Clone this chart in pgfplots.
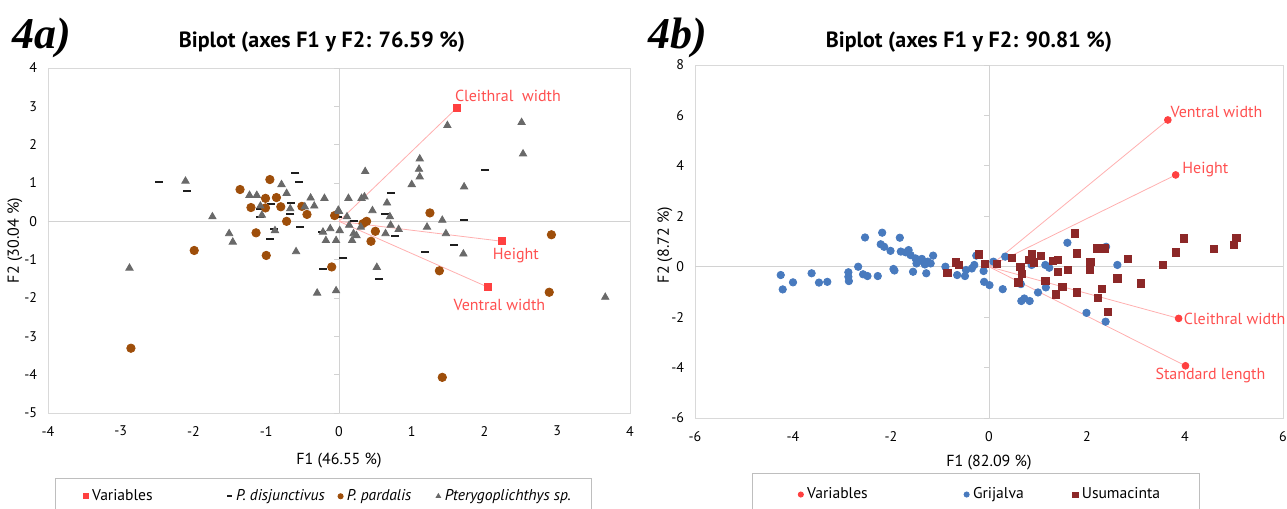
\documentclass[border=0pt]{standalone}
\usepackage{pgfplots}
\pgfplotsset{compat=1.18}
\usepackage{fontspec}
\setmainfont{PT Sans}
\newfontfamily\numfont{Liberation Serif}

\definecolor{framec}{RGB}{217,217,217}
\definecolor{zeroc}{RGB}{210,210,210}
\definecolor{varred}{RGB}{255,64,64}
\definecolor{vartxt}{RGB}{255,80,80}
\definecolor{vecc}{RGB}{255,175,175}
\definecolor{pardc}{RGB}{158,78,10}
\definecolor{ptec}{RGB}{105,105,105}
\definecolor{disc}{RGB}{30,30,30}
\definecolor{grijc}{RGB}{72,122,190}
\definecolor{usumc}{RGB}{140,40,40}
\definecolor{legc}{RGB}{190,190,190}

\pgfplotsset{
  bip/.style={
    scale only axis, anchor=south west,
    axis line style={draw=framec},
    major tick length=0pt,
    /pgf/number format/assume math mode=true,
    tick label style={font=\fontsize{7}{8}\selectfont},
    xticklabel style={yshift=-3pt},
    yticklabel style={xshift=-2pt},
    label style={font=\fontsize{8}{9}\selectfont},
    clip=false,
    legend style={draw=legc, font=\fontsize{7.8}{9}\selectfont,
      cells={anchor=west},
      nodes={inner xsep=0pt}},
    legend image code/.code={\draw[##1,mark size=1.3pt] plot coordinates {(0pt,0pt)}; \path (-3pt,0pt) (3pt,0pt);},
  },
}

\begin{document}
\begin{tikzpicture}
\useasboundingbox (0pt,0pt) rectangle (643.5pt,254.5pt);

% panel labels and titles
\node[font=\numfont\bfseries\itshape\fontsize{22}{24}\selectfont] at (20.75pt,235.5pt) {4a)};
\node[font=\bfseries\fontsize{11}{13}\selectfont] at (161pt,233.5pt) {Biplot (axes F1 y F2: 76.59 \%)};
\node[font=\numfont\bfseries\itshape\fontsize{22}{24}\selectfont] at (339pt,235.5pt) {4b)};
\node[font=\bfseries\fontsize{11}{13}\selectfont] at (484.5pt,233.5pt) {Biplot (axes F1 y F2: 90.81 \%)};

% ---------- 4a ----------
\begin{axis}[bip,
  at={(24pt,48pt)}, width=291pt, height=172.5pt,
  xmin=-4, xmax=4, ymin=-5, ymax=4,
  xtick={-4,...,4}, ytick={-5,...,4},
  xlabel={F1 (46.55 \%)}, ylabel={F2 (30.04 \%)},
  xlabel style={at={(axis description cs:0.5,-0.139)}, anchor=center},
  ylabel style={at={(axis description cs:-0.057,0.5)}, anchor=center},
  legend columns=4,
  legend style={at={(0.012,-0.188)}, anchor=north west, inner xsep=12pt, inner ysep=3.5pt},
]
\addplot[zeroc, forget plot] coordinates {(-4,0) (4,0)};
\addplot[zeroc, forget plot] coordinates {(0,-5) (0,4)};
\pgfplotsinvokeforeach{-5,...,4}{\draw[zeroc] (axis cs:0,#1) -- ++(-2.5pt,0pt);}
\addplot[vecc, forget plot] coordinates {(0,0) (1.62,2.96)};
\addplot[vecc, forget plot] coordinates {(0,0) (2.24,-0.52)};
\addplot[vecc, forget plot] coordinates {(0,0) (2.05,-1.72)};

\addplot[only marks, mark=square*, mark size=1.75pt, color=varred] coordinates {
 (1.62,2.96) (2.24,-0.52) (2.05,-1.72)};
\addlegendentry{\makebox[65pt][l]{Variables}}

\addplot[only marks, mark=-, mark size=2pt, line width=1pt, color=disc] coordinates {
 (-2.48,1.03) (-2.09,0.79) (-0.60,1.27) (-0.55,1.03) (-0.94,0.45)
 (-0.66,0.48) (-1.08,0.33) (-1.08,0.12) (-0.67,0.20) (-0.90,-0.19)
 (-0.95,-0.45) (-0.54,-0.15) (-0.22,-1.24) (0.06,-0.95) (-0.23,-0.27)
 (0.71,0.75) (0.63,0.20) (0.20,0.01) (0.77,-0.39) (2.01,1.34)
 (1.72,0.03) (1.58,-0.61) (1.18,-0.80) (0.55,-1.50) (-0.02,0.12)};
\addlegendentry{\makebox[49pt][l]{\itshape P. disjunctivus}}

\addplot[only marks, mark=*, mark size=2.1pt, color=pardc] coordinates {
 (-1.36,0.83) (-0.95,1.09) (-1.21,0.36) (-1.01,0.60) (-1.01,0.35)
 (-0.86,0.62) (-0.80,0.38) (-0.51,0.39) (-0.44,0.18) (-0.72,0.00)
 (-1.14,-0.30) (-1.00,-0.89) (-1.99,-0.76) (-0.10,-1.19) (-0.06,0.15)
 (-2.86,-3.31) (0.38,0.00) (0.33,-0.06) (0.50,-0.26) (0.44,-0.52)
 (1.25,0.22) (2.92,-0.35) (1.38,-1.29) (2.89,-1.85) (1.42,-4.07)};
\addlegendentry{\makebox[42.5pt][l]{\itshape P. pardalis}}

\addplot[only marks, mark=triangle*, mark size=2.1pt, color=ptec] coordinates {
 (-2.11,1.05) (-2.88,-1.22) (-1.74,0.12) (-1.51,-0.32) (-1.46,-0.54)
 (-1.23,0.68) (-1.13,0.68) (-1.06,0.16) (-1.08,0.40) (-0.79,0.96)
 (-0.72,0.73) (-0.67,0.33) (-0.88,-0.24) (-0.59,-0.79) (-0.39,0.61)
 (-0.34,0.40) (-0.47,0.38) (-0.20,0.60) (-0.22,-0.28) (-0.18,-0.50)
 (-0.12,-0.19) (-0.01,0.29) (0.01,-0.24) (-0.30,-1.87) (-0.04,-1.81)
 (0.13,0.60) (0.31,0.60) (0.35,0.64) (0.36,1.30) (0.00,0.26)
 (0.11,0.12) (0.46,0.28) (0.66,0.48) (0.70,0.12) (0.71,-0.10)
 (0.82,-0.21) (0.64,-0.32) (1.00,0.96) (1.11,1.63) (1.10,1.36)
 (1.11,1.16) (1.49,2.50) (1.72,0.90) (1.42,0.03) (1.21,-0.15)
 (1.47,-0.32) (1.71,-0.85) (2.51,2.58) (2.53,1.76) (0.14,-0.10)
 (0.20,-0.32) (0.18,-0.50) (0.24,-0.37) (0.30,-0.15) (-0.04,-0.50)
 (0.52,-1.20) (3.66,-1.98)};
\addlegendentry{\makebox[61.5pt][l]{\itshape Pterygoplichthys sp.}}

\node[anchor=west, text=vartxt, font=\fontsize{8}{9}\selectfont, inner sep=0pt] at (axis cs:1.59,3.28) {Cleithral\ \ width};
\node[anchor=west, text=vartxt, font=\fontsize{8}{9}\selectfont, inner sep=0pt] at (axis cs:2.11,-0.89) {Height};
\node[anchor=west, text=vartxt, font=\fontsize{8}{9}\selectfont, inner sep=0pt] at (axis cs:1.57,-2.19) {Ventral width};
\end{axis}

% ---------- 4b ----------
\begin{axis}[bip,
  at={(347.5pt,45.5pt)}, width=294pt, height=176.5pt,
  xmin=-6, xmax=6, ymin=-6, ymax=8,
  xtick={-6,-4,...,6}, ytick={-6,-4,...,8},
  xlabel={F1 (82.09 \%)}, ylabel={F2 (8.72 \%)},
  xlabel style={at={(axis description cs:0.5,-0.125)}, anchor=center},
  ylabel style={at={(axis description cs:-0.051,0.49)}, anchor=center},
  legend columns=3,
  legend style={at={(0.097,-0.156)}, anchor=north west, inner xsep=21pt, inner ysep=5pt},
]
\addplot[zeroc, forget plot] coordinates {(-6,0) (6,0)};
\addplot[zeroc, forget plot] coordinates {(0,-6) (0,8)};
\pgfplotsinvokeforeach{-6,-4,...,8}{\draw[zeroc] (axis cs:0,#1) -- ++(-2.5pt,0pt);}
\addplot[vecc, forget plot] coordinates {(0,0) (3.65,5.82)};
\addplot[vecc, forget plot] coordinates {(0,0) (3.81,3.64)};
\addplot[vecc, forget plot] coordinates {(0,0) (3.87,-2.05)};
\addplot[vecc, forget plot] coordinates {(0,0) (4.01,-3.93)};

\addplot[only marks, mark=*, mark size=1.7pt, color=varred] coordinates {
 (3.65,5.82) (3.81,3.64) (3.87,-2.05) (4.01,-3.93)};
\addlegendentry{\makebox[76.5pt][l]{Variables}}

\addplot[only marks, mark=*, mark size=1.85pt, color=grijc] coordinates {
 (-4.25,-0.33) (-4.21,-0.90) (-4.00,-0.62) (-3.62,-0.26) (-3.47,-0.63)
 (-3.30,-0.60) (-2.87,-0.22) (-2.87,-0.40) (-2.86,-0.57) (-2.67,0.00)
 (-2.57,-0.30) (-2.48,-0.37) (-2.53,1.16) (-2.27,-0.37) (-2.18,1.35)
 (-2.21,0.89) (-2.14,0.79) (-2.01,0.63) (-1.95,-0.09) (-1.93,-0.15)
 (-1.82,1.15) (-1.80,0.60) (-1.70,0.57) (-1.64,0.66) (-1.60,0.46)
 (-1.55,-0.20) (-1.50,0.33) (-1.48,0.13) (-1.42,0.23) (-1.37,0.31)
 (-1.31,0.09) (-1.28,-0.26) (-1.25,0.20) (-1.14,0.44) (-1.19,0.13)
 (-0.89,0.00) (-0.65,-0.33) (-0.47,-0.13) (-0.49,-0.37) (-0.35,-0.07)
 (-0.30,0.07) (-0.26,0.44) (-0.11,-0.17) (-0.10,-0.60) (0.01,-0.73)
 (0.09,0.20) (0.28,-0.89) (0.33,0.40) (0.65,-0.69) (0.66,-1.36)
 (0.72,-1.26) (0.83,-1.36) (0.87,0.07) (1.00,-1.02) (1.16,-0.82)
 (1.15,0.07) (1.23,-0.04) (1.60,0.95) (1.99,-1.83) (2.39,0.79)
 (2.38,-2.18) (2.62,0.07)};
\addlegendentry{\makebox[48pt][l]{Grijalva}}

\addplot[only marks, mark=square*, mark size=1.8pt, color=usumc] coordinates {
 (-0.85,-0.23) (-0.67,0.17) (-0.62,0.07) (-0.20,0.49) (-0.08,0.11)
 (0.16,0.11) (0.46,0.36) (0.64,0.00) (0.67,-0.30) (0.60,-0.62)
 (0.82,0.26) (0.87,0.49) (0.91,0.17) (1.06,0.44) (1.15,-0.57)
 (1.31,0.22) (1.41,0.26) (1.40,-0.20) (1.36,-1.10) (1.50,-0.79)
 (1.61,-0.13) (1.75,1.32) (1.79,0.53) (1.79,-1.02) (2.07,0.20)
 (2.06,-0.13) (2.20,0.73) (2.36,0.73) (2.31,-0.89) (2.22,-1.23)
 (2.43,-1.79) (2.62,-0.46) (2.84,0.31) (3.10,-0.66) (3.55,0.07)
 (3.82,0.57) (3.98,1.12) (4.59,0.70) (5.00,0.86) (5.05,1.15)};
\addlegendentry{\makebox[38pt][l]{Usumacinta}}

\node[anchor=west, text=vartxt, font=\fontsize{8}{9}\selectfont, inner sep=0pt] at (axis cs:3.70,6.15) {Ventral width};
\node[anchor=west, text=vartxt, font=\fontsize{8}{9}\selectfont, inner sep=0pt] at (axis cs:3.94,3.84) {Height};
\node[anchor=west, text=vartxt, font=\fontsize{8}{9}\selectfont, inner sep=0pt] at (axis cs:3.97,-2.05) {Cleithral width};
\node[anchor=west, text=vartxt, font=\fontsize{8}{9}\selectfont, inner sep=0pt] at (axis cs:3.39,-4.30) {Standard length};
\end{axis}
\end{tikzpicture}
\end{document}
